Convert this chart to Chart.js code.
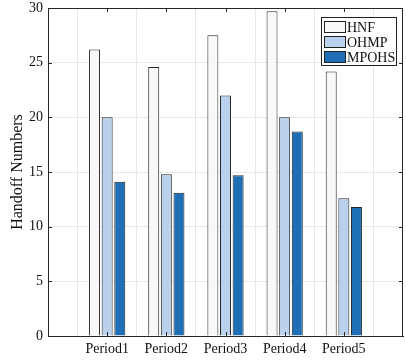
<!DOCTYPE html>
<html>
<head>
<meta charset="utf-8">
<script src="https://cdn.jsdelivr.net/npm/chart.js@4/dist/chart.umd.min.js"></script>
<style>
  html, body { margin: 0; padding: 0; background: #fff; }
  #wrap { width: 406px; height: 362px; overflow: hidden; }
  #barChart { display: block; margin-top: -4px; }
</style>
</head>
<body>
<div id="wrap"><canvas id="barChart" width="409" height="366"></canvas></div>
<script>
var periodos = ["Period1", "Period2", "Period3", "Period4", "Period5"];
var hnf = [26.2, 24.6, 27.5, 29.7, 24.2];
var ohmp = [20.0, 14.8, 22.0, 20.0, 12.6];
var mpohs = [14.1, 13.1, 14.7, 18.7, 11.8];
var yTicks = [0, 5, 10, 15, 20, 25, 30];

var fuente = "'Liberation Serif', 'Times New Roman', serif";
var colorEje = "#262626";

// categorias vacias a los lados para que el eje vaya de 0 a 6
var etiquetas = [""].concat(periodos, [""]);
function rellenar(arr) {
    return [null].concat(arr, [null]);
}

// caja, marcas hacia dentro y leyenda
var cajaPlugin = {
    id: "caja",
    afterDraw: function (chart) {
        let ctx = chart.ctx;
        let a = chart.chartArea;
        let x = chart.scales.x;
        let y = chart.scales.y;
        ctx.save();
        ctx.strokeStyle = colorEje;
        ctx.lineWidth = 1;
        ctx.beginPath();
        for (let i = 1; i < etiquetas.length - 1; i++) {
            let px = Math.round(x.getPixelForValue(i)) + 0.5;
            ctx.moveTo(px, a.bottom); ctx.lineTo(px, a.bottom - 4);
            ctx.moveTo(px, a.top); ctx.lineTo(px, a.top + 4);
        }
        yTicks.forEach(function (v) {
            let py = Math.round(y.getPixelForValue(v)) + 0.5;
            ctx.moveTo(a.left, py); ctx.lineTo(a.left + 4, py);
            ctx.moveTo(a.right, py); ctx.lineTo(a.right - 4, py);
        });
        ctx.stroke();
        ctx.strokeRect(Math.round(a.left) + 0.5, Math.round(a.top) + 0.5,
            Math.round(a.right - a.left) - 1, Math.round(a.bottom - a.top));

        // leyenda (arriba a la derecha dentro del area)
        let lx = Math.round(a.right) - 82, ly = Math.round(a.top) + 9, lw = 75, lh = 48;
        ctx.fillStyle = "#fff";
        ctx.fillRect(lx, ly, lw, lh);
        ctx.strokeStyle = "#222";
        ctx.strokeRect(lx + 0.5, ly + 0.5, lw, lh);
        ctx.font = "14px " + fuente;
        ctx.textBaseline = "middle";
        chart.data.datasets.forEach(function (ds, i) {
            let sy = ly + 4 + i * 15;
            ctx.fillStyle = ds.backgroundColor;
            ctx.fillRect(lx + 3.5, sy + 0.5, 21, 11);
            ctx.strokeStyle = "#222";
            ctx.strokeRect(lx + 3.5, sy + 0.5, 21, 11);
            ctx.fillStyle = "#111";
            ctx.fillText(ds.label, lx + 26, sy + 7);
        });
        ctx.restore();
    }
};

let ctx = document.getElementById("barChart").getContext("2d");
let barChart = new Chart(ctx, {
    type: "bar",
    data: {
        labels: etiquetas,
        datasets: [{
            label: "HNF",
            data: rellenar(hnf),
            backgroundColor: "#f8f8f8",
            borderColor: "#262626",
            borderWidth: 1
        }, {
            label: "OHMP",
            data: rellenar(ohmp),
            backgroundColor: "#bad1ee",
            borderColor: "#262626",
            borderWidth: 1
        }, {
            label: "MPOHS",
            data: rellenar(mpohs),
            backgroundColor: "#1f6fb6",
            borderColor: "#262626",
            borderWidth: 1
        }]
    },
    options: {
        responsive: false,
        animation: false,
        categoryPercentage: 0.64,
        barPercentage: 0.87,
        layout: { padding: { top: 0, right: 0, left: 0, bottom: 0 } },
        plugins: {
            legend: { display: false },
            tooltip: { enabled: false }
        },
        scales: {
            x: {
                offset: false,
                grid: { color: "#e8e8e8", drawTicks: false },
                border: { display: true, color: colorEje },
                ticks: {
                    color: "#111",
                    padding: 6,
                    maxRotation: 0,
                    autoSkip: false,
                    font: { family: fuente, size: 14, lineHeight: 1 }
                },
                afterFit: function (s) { s.height = 26; }
            },
            y: {
                min: 0,
                max: 30,
                grid: { color: "#e8e8e8", drawTicks: false },
                border: { display: true, color: colorEje },
                ticks: {
                    stepSize: 5,
                    color: "#111",
                    padding: 5,
                    font: { family: fuente, size: 14, lineHeight: 1 }
                },
                title: {
                    display: true,
                    text: "Handoff Numbers",
                    color: "#111",
                    padding: { top: 8, bottom: 0 },
                    font: { family: fuente, size: 16 }
                },
                afterFit: function (s) { s.width = 48; }
            }
        }
    },
    plugins: [cajaPlugin]
});
</script>
</body>
</html>
